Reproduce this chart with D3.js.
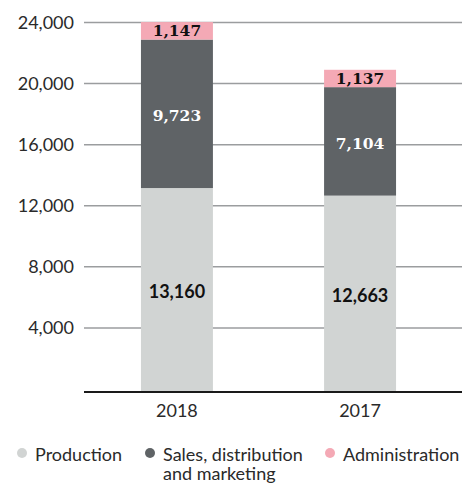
<!DOCTYPE html>
<html>
<head>
<meta charset="utf-8">
<script src="https://cdn.jsdelivr.net/npm/d3@7"></script>
<style>
  html, body { margin: 0; padding: 0; background: #fff; }
  svg { display: block; }
  text { font-family: Lato, "Open Sans", sans-serif; }
</style>
</head>
<body>
<svg id="chart" width="462" height="485"></svg>
<script>
// Cost breakdown by function, stacked per year
const years = ["2018", "2017"];
const production = [13160, 12663];
const salesDistribution = [9723, 7104];
const administration = [1147, 1137];
const seriesNames = ["Production", "Sales, distribution and marketing", "Administration"];
const legendLabels = [["Production"], ["Sales, distribution", "and marketing"], ["Administration"]];
const seriesColors = ["#d1d4d3", "#5f6366", "#f4a9b5"];
const labelColors = ["#111", "#fff", "#111"];
const labelFonts = ["Lato, sans-serif", "'DejaVu Serif', serif", "'DejaVu Serif', serif"];
const yTicks = [4000, 8000, 12000, 16000, 20000, 24000];

const svg = d3.select("#chart");
const fmt = d3.format(",");

const table = years.map((yr, i) => ({
  year: yr,
  "Production": production[i],
  "Sales, distribution and marketing": salesDistribution[i],
  "Administration": administration[i]
}));

const stack = d3.stack().keys(seriesNames);
const layers = stack(table);

const left = 84, right = 462, baseY = 392;
const x = d3.scaleBand().domain(years).range([left, 453])
  .paddingInner(0.607).paddingOuter(0.311);
const y = d3.scaleLinear().domain([0, 24000]).range([389, 22.5]);

// gridlines
svg.append("g").selectAll("line").data(yTicks).join("line")
  .attr("x1", left).attr("x2", right)
  .attr("y1", d => y(d)).attr("y2", d => y(d))
  .attr("stroke", "#9b9d9f").attr("stroke-width", 1.5);

// y tick labels
svg.append("g").selectAll("text").data(yTicks).join("text")
  .attr("x", 74).attr("y", d => y(d) + 6)
  .attr("text-anchor", "end")
  .attr("font-size", 18).attr("fill", "#2a2a2a")
  .text(d => fmt(d));

// stacked bars
const layerG = svg.append("g").selectAll("g").data(layers).join("g")
  .attr("fill", (d, i) => seriesColors[i]);
layerG.selectAll("rect").data(d => d).join("rect")
  .attr("x", d => x(d.data.year))
  .attr("width", x.bandwidth())
  .attr("y", d => y(d[1]))
  .attr("height", d => (d[0] === 0 ? baseY : y(d[0])) - y(d[1]));

// value labels
layers.forEach((layer, i) => {
  svg.append("g").selectAll("text").data(layer).join("text")
    .attr("x", d => x(d.data.year) + x.bandwidth() / 2)
    .attr("y", d => ((d[0] === 0 ? baseY : y(d[0])) + y(d[1])) / 2 + (i === 2 ? 0 : 2))
    .attr("dy", "0.36em")
    .attr("text-anchor", "middle")
    .attr("font-weight", "bold")
    .attr("font-size", i === 0 ? 18 : 15.5)
    .style("font-family", labelFonts[i])
    .attr("fill", labelColors[i])
    .text(d => fmt(d[1] - d[0]));
});

// baseline
svg.append("line")
  .attr("x1", left).attr("x2", right)
  .attr("y1", baseY).attr("y2", baseY)
  .attr("stroke", "#1a1a1a").attr("stroke-width", 2);

// year labels
svg.append("g").selectAll("text").data(years).join("text")
  .attr("x", d => x(d) + x.bandwidth() / 2)
  .attr("y", 417)
  .attr("text-anchor", "middle")
  .attr("font-size", 18).attr("fill", "#2a2a2a")
  .text(d => d);

// legend
const legendX = [22, 150, 330];
const legend = svg.append("g").selectAll("g").data(seriesNames).join("g")
  .attr("transform", (d, i) => `translate(${legendX[i]},0)`);
legend.append("circle")
  .attr("cx", 0).attr("cy", 453).attr("r", 5)
  .attr("fill", (d, i) => seriesColors[i]);
legend.append("text")
  .attr("x", 13).attr("y", 461)
  .attr("font-size", 18).attr("fill", "#2a2a2a")
  .selectAll("tspan").data((d, i) => legendLabels[i]).join("tspan")
  .attr("x", 13).attr("dy", (d, j) => j === 0 ? 0 : 19)
  .text(d => d);
</script>
</body>
</html>
